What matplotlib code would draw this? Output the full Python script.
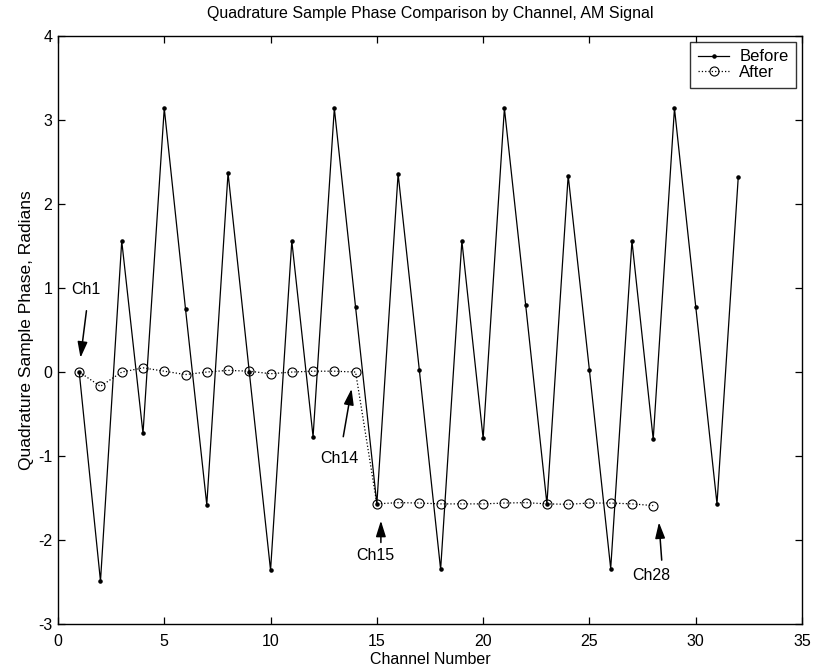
import numpy as np
import matplotlib.pyplot as plt

plt.rcParams['font.family'] = ['Liberation Sans', 'DejaVu Sans']
plt.rcParams['axes.unicode_minus'] = False

channels = np.arange(1, 33)
before = [0.00, -2.49, 1.56, -0.73, 3.14, 0.75, -1.58, 2.37,
          0.00, -2.36, 1.56, -0.77, 3.14, 0.77, -1.57, 2.36,
          0.02, -2.35, 1.56, -0.79, 3.14, 0.80, -1.57, 2.34,
          0.02, -2.34, 1.56, -0.80, 3.14, 0.78, -1.57, 2.32]

after_ch = np.arange(1, 29)
after = [0.00, -0.17, 0.00, 0.05, 0.01, -0.03, 0.00, 0.02, 0.01, -0.02,
         0.00, 0.01, 0.01, 0.00,
         -1.57, -1.555, -1.56, -1.57, -1.57, -1.57, -1.56, -1.555, -1.57,
         -1.575, -1.56, -1.56, -1.57, -1.59]

# channel callouts: label, arrow tip (x, y), arrow tail (x, y), text position
notes = [
    ('Ch1', (1.06, 0.17), (1.34, 0.73), (1.32, 0.98)),
    ('Ch14', (13.81, -0.20), (13.42, -0.77), (13.26, -1.03)),
    ('Ch15', (15.19, -1.77), (15.19, -2.03), (14.91, -2.19)),
    ('Ch28', (28.27, -1.79), (28.40, -2.24), (27.93, -2.42)),
]

fs = 11.5

fig = plt.figure(figsize=(8.13, 6.69), dpi=100)
ax = fig.add_axes([0.0713, 0.0673, 0.9152, 0.8787])

ax.plot(channels, before, color='black', lw=0.9, marker='.', ms=4.5,
        label='Before')
ax.plot(after_ch, after, color='black', lw=0.9, ls=':', marker='o', ms=6.5,
        mfc='none', mew=0.8, label='After')

for label, tip, tail, txt in notes:
    ax.annotate('', xy=tip, xytext=tail,
                arrowprops=dict(arrowstyle='-|>,head_length=0.8,head_width=0.25',
                                color='black', lw=1.1, mutation_scale=12,
                                shrinkA=0, shrinkB=0))
    ax.text(txt[0], txt[1], label, ha='center', va='center', fontsize=fs)

ax.set_xlim(0, 35)
ax.set_ylim(-3, 4)
ax.set_xticks(np.arange(0, 36, 5))
ax.set_yticks(np.arange(-3, 5, 1))
ax.tick_params(direction='in', top=True, right=True, labelsize=fs,
               length=5, width=0.9)
ax.tick_params(axis='x', pad=7.5)
ax.tick_params(axis='y', pad=4)
for s in ax.spines.values():
    s.set_linewidth(1.0)

ax.set_title('Quadrature Sample Phase Comparison by Channel, AM Signal',
             fontsize=fs, pad=13)
ax.set_xlabel('Channel Number', fontsize=fs, labelpad=2)
ax.set_ylabel('Quadrature Sample Phase, Radians', fontsize=12.5, labelpad=3)

leg = ax.legend(loc='upper right', fontsize=12, frameon=True, fancybox=False,
                edgecolor='black', borderpad=0.45, handlelength=1.9,
                handletextpad=0.6, labelspacing=0.05, borderaxespad=0.35)
leg.get_frame().set_linewidth(1.0)

fig.savefig('out.png', dpi=100)
